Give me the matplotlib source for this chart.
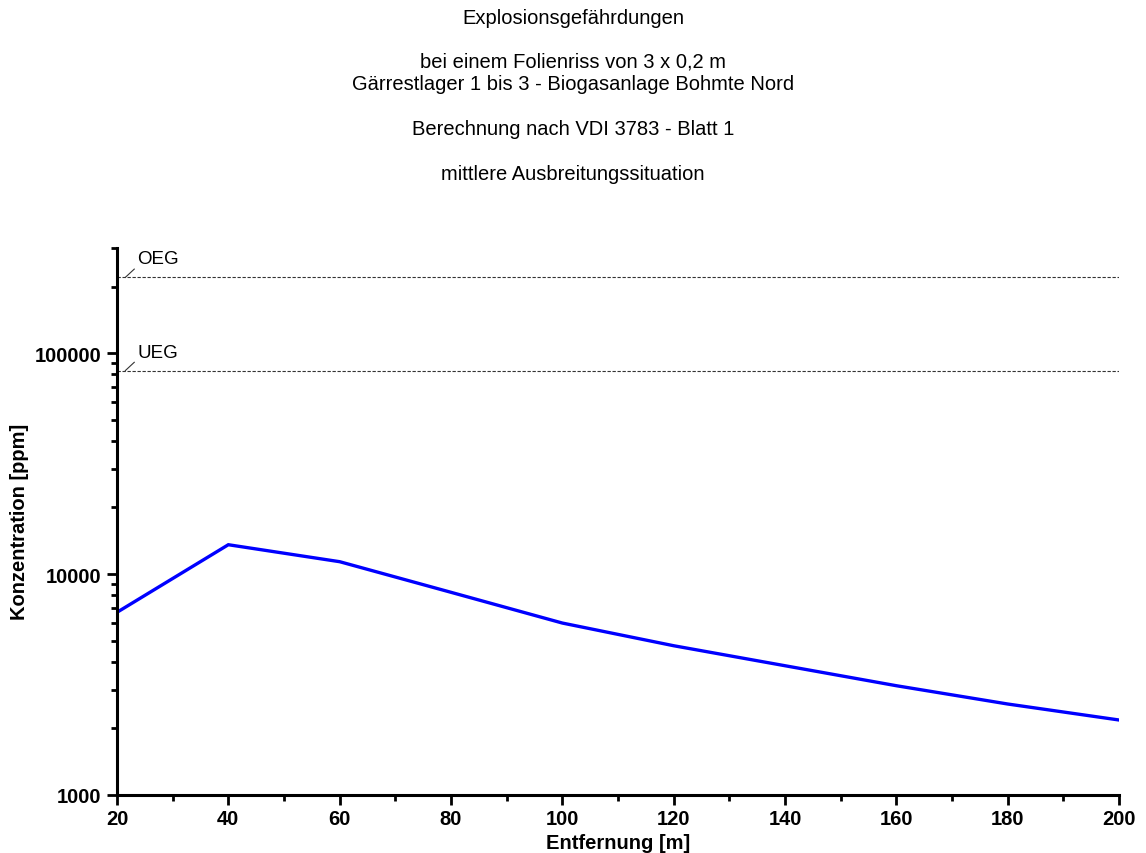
import matplotlib
matplotlib.use("Agg")
import matplotlib.pyplot as plt
from matplotlib.ticker import FixedLocator, LogLocator, NullFormatter, MultipleLocator

plt.rcParams['font.family'] = ['Liberation Sans', 'DejaVu Sans']

distance = [20, 40, 60, 80, 100, 120, 140, 160, 180, 200]
concentration = [6710, 13570, 11370, 8265, 6000, 4737, 3846, 3123, 2581, 2185]
oeg = 220000
ueg = 83300
title_lines = ["Explosionsgefährdungen", "bei einem Folienriss von 3 x 0,2 m",
               "Gärrestlager 1 bis 3 - Biogasanlage Bohmte Nord",
               "Berechnung nach VDI 3783 - Blatt 1", "mittlere Ausbreitungssituation"]
title_y = [18, 62, 85, 130, 175]
y_major = [1000, 10000, 100000]
y_major_labels = ["1000", "10000", "100000"]
x_major = [20, 40, 60, 80, 100, 120, 140, 160, 180, 200]

fig = plt.figure(figsize=(11.46, 8.54), dpi=100)
W, H = 1146, 854
ax = fig.add_axes([117 / W, 1 - 796 / H, (1119 - 117) / W, (796 - 248.6) / H])

ax.plot(distance, concentration, color='#0000FF', lw=2.4, solid_joinstyle='miter')
ax.axhline(oeg, color='#333333', lw=0.8, ls=(0, (3, 1.5)))
ax.axhline(ueg, color='#333333', lw=0.8, ls=(0, (3, 1.5)))

for val, lab in [(oeg, "OEG"), (ueg, "UEG")]:
    ax.plot([21.5, 23.1], [val, val * 1.09], color='#333333', lw=0.8)
    ax.text(23.7, val * 1.11, lab, fontsize=13.5, ha='left', va='bottom')

ax.set_yscale('log')
ax.set_xlim(20, 200)
ax.set_ylim(1000, 300000)
ax.xaxis.set_major_locator(FixedLocator(x_major))
ax.xaxis.set_minor_locator(MultipleLocator(10))
ax.yaxis.set_major_locator(FixedLocator(y_major))
ax.set_yticklabels(y_major_labels)
ax.yaxis.set_minor_locator(LogLocator(base=10, subs=range(2, 10)))
ax.yaxis.set_minor_formatter(NullFormatter())

for s in ['top', 'right']:
    ax.spines[s].set_visible(False)
for s in ['left', 'bottom']:
    ax.spines[s].set_linewidth(2.2)

ax.tick_params(which='major', direction='out', length=7, width=2, labelsize=14.5, pad=4)
ax.tick_params(axis='x', which='major', pad=3)
ax.tick_params(which='minor', direction='out', length=4, width=2)
for lbl in ax.get_xticklabels() + ax.get_yticklabels():
    lbl.set_fontweight('bold')

ax.set_xlabel("Entfernung [m]", fontsize=14.5, fontweight='bold', labelpad=4)
ax.set_ylabel("Konzentration [ppm]", fontsize=14.5, fontweight='bold', labelpad=4)

for txt, yy in zip(title_lines, title_y):
    fig.text(573 / W, 1 - yy / H, txt, ha='center', va='center', fontsize=14.5)

fig.savefig("out.png", dpi=100)
